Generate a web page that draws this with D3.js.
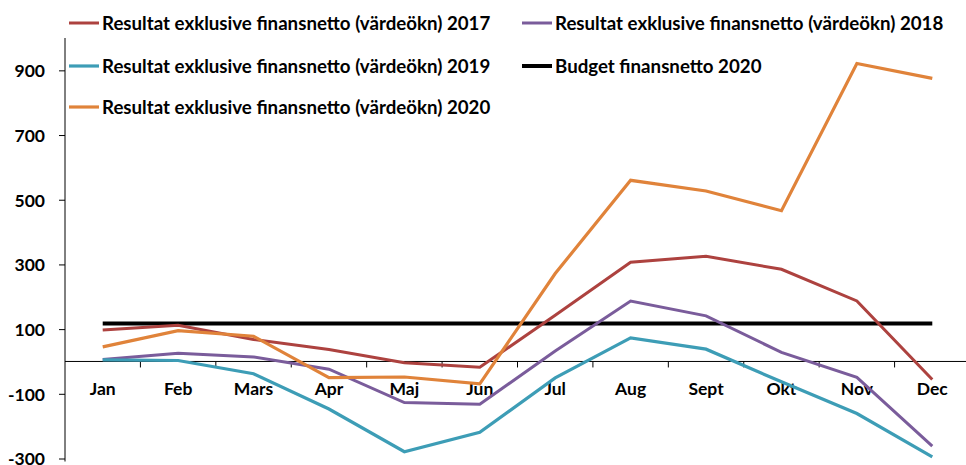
<!DOCTYPE html>
<html>
<head>
<meta charset="utf-8">
<script src="https://cdn.jsdelivr.net/npm/d3@7"></script>
<style>
  body { margin: 0; background: #fff; }
  text { font-family: Lato, "Open Sans", sans-serif; font-weight: bold; fill: #000; }
</style>
</head>
<body>
<script>
var months = ["Jan", "Feb", "Mars", "Apr", "Maj", "Jun", "Jul", "Aug", "Sept", "Okt", "Nov", "Dec"];
var yTicks = [-300, -100, 100, 300, 500, 700, 900];

var res2017 = [97, 112, 68, 37, -4, -18, 143, 307, 325, 285, 187, -56];
var res2018 = [6, 25, 14, -24, -127, -132, 32, 187, 141, 28, -49, -262];
var res2019 = [5, 3, -38, -147, -279, -219, -51, 73, 38, -63, -161, -295];
var res2020 = [45, 95, 78, -50, -48, -69, 272, 560, 527, 466, 921, 875];
var budget2020 = [117, 117, 117, 117, 117, 117, 117, 117, 117, 117, 117, 117];

var series = [
  { name: "Resultat exklusive finansnetto (värdeökn) 2017", values: res2017, color: "#ad423f", width: 3 },
  { name: "Resultat exklusive finansnetto (värdeökn) 2018", values: res2018, color: "#7a5c9b", width: 3 },
  { name: "Resultat exklusive finansnetto (värdeökn) 2019", values: res2019, color: "#3d9db6", width: 3.2 },
  { name: "Budget finansnetto 2020", values: budget2020, color: "#000000", width: 4 },
  { name: "Resultat exklusive finansnetto (värdeökn) 2020", values: res2020, color: "#e0833a", width: 3.2 }
];

var width = 966, height = 465;
var plot = { left: 65, right: 970, top: 38, bottom: 458.5 };

var svg = d3.select("body").append("svg")
  .attr("width", width)
  .attr("height", height);

var x = d3.scaleBand().domain(months).range([plot.left, plot.right]);
var y = d3.scaleLinear().domain([-300, 1000]).range([plot.bottom, plot.top]);

// y axis (plain hyphen for negatives, like the original)
var yAxis = d3.axisLeft(y).tickValues(yTicks).tickSize(6).tickPadding(14)
  .tickFormat(function (d) { return String(d); });
var gy = svg.append("g")
  .attr("transform", "translate(" + plot.left + ",0)")
  .call(yAxis);
gy.select(".domain").attr("d", "M0," + (plot.bottom + 3) + "V" + plot.top).attr("stroke", "#000");
gy.selectAll(".tick line").attr("stroke", "#000");
gy.selectAll(".tick text").style("font-size", "17.5px").attr("dy", "0.36em");

// x axis at zero
var gx = svg.append("g").attr("transform", "translate(0," + y(0) + ")");
gx.append("line")
  .attr("x1", plot.left).attr("x2", width)
  .attr("stroke", "#000");
gx.selectAll(".bt")
  .data(months.slice(1))
  .enter().append("line")
  .attr("x1", function (d) { return x(d); })
  .attr("x2", function (d) { return x(d); })
  .attr("y1", 0).attr("y2", 6)
  .attr("stroke", "#000");
gx.selectAll(".ml")
  .data(months)
  .enter().append("text")
  .attr("x", function (d) { return x(d) + x.bandwidth() / 2; })
  .attr("y", 27)
  .attr("dy", "0.36em")
  .attr("text-anchor", "middle")
  .style("font-size", "17.5px")
  .text(function (d) { return d; });

var line = d3.line()
  .x(function (d, i) { return x(months[i]) + x.bandwidth() / 2; })
  .y(function (d) { return y(d); });

// draw order: budget first, then the results
var drawOrder = [3, 0, 1, 2, 4];
drawOrder.forEach(function (k) {
  var s = series[k];
  svg.append("path")
    .datum(s.values)
    .attr("fill", "none")
    .attr("stroke", s.color)
    .attr("stroke-width", s.width)
    .attr("stroke-linejoin", "miter")
    .attr("d", line);
});

// legend
var legendPos = [
  { x: 69, y: 23 }, { x: 522, y: 23 },
  { x: 69, y: 66 }, { x: 522, y: 66 },
  { x: 69, y: 107 }
];
series.forEach(function (s, i) {
  var g = svg.append("g").attr("transform", "translate(" + legendPos[i].x + "," + legendPos[i].y + ")");
  g.append("line").attr("x1", 0).attr("x2", 30)
    .attr("stroke", s.color).attr("stroke-width", s.width);
  g.append("text").attr("x", 33).attr("dy", "0.36em")
    .style("font-size", "18.7px")
    .text(s.name);
});
</script>
</body>
</html>
